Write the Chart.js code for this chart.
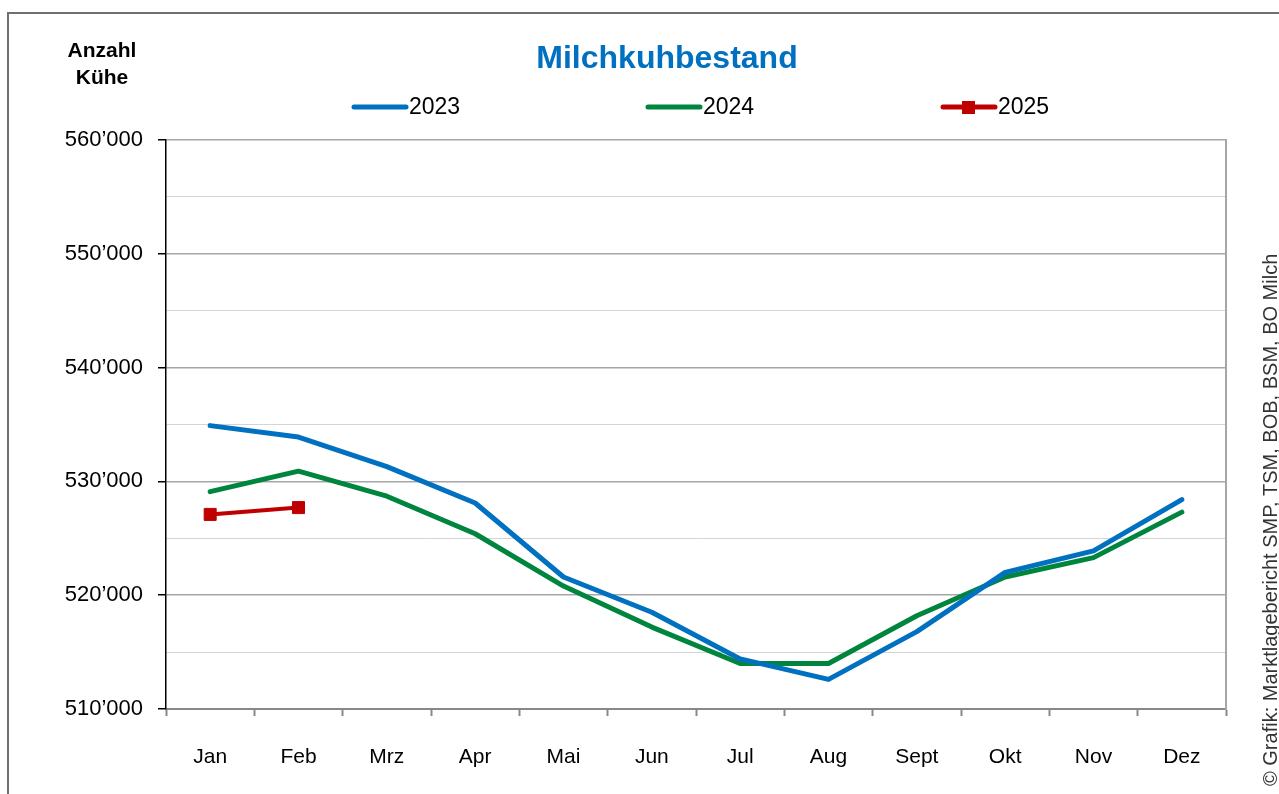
<!DOCTYPE html>
<html lang="de">
<head>
<meta charset="utf-8">
<title>Milchkuhbestand</title>
<script src="https://cdn.jsdelivr.net/npm/chart.js@4.4.1/dist/chart.umd.min.js"></script>
<style>
  html, body { margin: 0; padding: 0; background: #fff; overflow: hidden; }
  .wrap { position: relative; width: 1279px; height: 794px; }
  .frame { position: absolute; left: 7px; top: 12px; width: 1300px; height: 800px; border: 2px solid #6f6f6f; box-sizing: border-box; }
  canvas { position: absolute; left: 0; top: 0; }
</style>
</head>
<body>
<div class="wrap">
  <div class="frame"></div>
  <canvas id="chart-cows" width="1279" height="794"></canvas>
</div>
<script>
const months = ['Jan', 'Feb', 'Mrz', 'Apr', 'Mai', 'Jun', 'Jul', 'Aug', 'Sept', 'Okt', 'Nov', 'Dez']
const cows2023 = [534900, 533900, 531300, 528100, 521600, 518500, 514400, 512600, 516800, 522000, 523900, 528400]
const cows2024 = [529100, 530900, 528700, 525400, 520800, 517200, 514000, 514000, 518200, 521600, 523300, 527300]
const cows2025 = [527100, 527700]
const yearLabels = ['2023', '2024', '2025']

;(function () {
  'use strict'

  const FONT = "'Liberation Sans', Arial, sans-serif"

  function fmt(v) {
    return String(v).replace(/\B(?=(\d{3})+(?!\d))/g, '\u2019')
  }

  // title, legend, y title and source credit drawn on top of the chart
  const extras = {
    id: 'extras',
    afterDraw(chart) {
      const ctx = chart.ctx
      ctx.save()

      ctx.fillStyle = '#0070C0'
      ctx.font = 'bold 32px ' + FONT
      ctx.textAlign = 'center'
      ctx.textBaseline = 'middle'
      ctx.fillText('Milchkuhbestand', 667, 59)

      ctx.fillStyle = '#000'
      ctx.font = 'bold 21px ' + FONT
      ctx.fillText('Anzahl', 102, 51)
      ctx.fillText('K\u00fche', 102, 78)

      const legendX = [352, 646, 941]
      chart.data.datasets.forEach((ds, i) => {
        const x = legendX[i], y = 107
        ctx.strokeStyle = ds.borderColor
        ctx.lineWidth = 5
        ctx.lineCap = 'round'
        ctx.beginPath()
        ctx.moveTo(x + 2, y)
        ctx.lineTo(x + 54, y)
        ctx.stroke()
        if (ds.pointRadius > 0) {
          ctx.fillStyle = ds.borderColor
          ctx.fillRect(x + 21, y - 6, 13, 13)
        }
        ctx.fillStyle = '#000'
        ctx.font = '23px ' + FONT
        ctx.textAlign = 'left'
        ctx.textBaseline = 'middle'
        ctx.fillText(ds.label, x + 57, y + 1)
      })

      ctx.translate(1277, 786)
      ctx.rotate(-Math.PI / 2)
      ctx.fillStyle = '#333'
      ctx.font = '20px ' + FONT
      ctx.textAlign = 'left'
      ctx.textBaseline = 'alphabetic'
      ctx.fillText('\u00a9 Grafik: Marktlagebericht SMP, TSM, BOB, BSM, BO Milch', 0, 0)
      ctx.restore()
    }
  }

  const canvas = document.getElementById('chart-cows')
  new Chart(canvas, {
    type: 'line',
    data: {
      labels: months,
      datasets: [
        { label: yearLabels[0], data: cows2023, borderColor: '#0070C0', backgroundColor: '#0070C0', borderWidth: 5, pointRadius: 0 },
        { label: yearLabels[1], data: cows2024, borderColor: '#00853E', backgroundColor: '#00853E', borderWidth: 5, pointRadius: 0 },
        { label: yearLabels[2], data: cows2025, borderColor: '#C00000', backgroundColor: '#C00000', borderWidth: 4, pointRadius: 8.5, pointStyle: 'rect', pointBorderWidth: 1 },
      ],
    },
    options: {
      responsive: false,
      animation: false,
      layout: { padding: { left: 30, right: 53, top: 140, bottom: 0 } },
      elements: { line: { tension: 0, borderCapStyle: 'round', borderJoinStyle: 'round' } },
      plugins: {
        legend: { display: false },
        tooltip: { enabled: false },
      },
      scales: {
        x: {
          offset: true,
          grid: { offset: true, drawOnChartArea: false, tickLength: 7, tickColor: '#888', tickWidth: 2 },
          border: { color: '#888', width: 2 },
          ticks: { color: '#000', font: { family: FONT, size: 21 }, padding: 29, maxRotation: 0, autoSkip: false },
          afterFit(scale) { scale.height = 85 },
        },
        y: {
          min: 510000,
          max: 560000,
          ticks: {
            stepSize: 5000,
            color: '#000',
            padding: 15,
            font: { family: FONT, size: 22 },
            callback: v => (v % 10000 === 0 ? fmt(v) : ''),
          },
          grid: {
            color: c => (c.tick && c.tick.value % 10000 === 0 ? '#a6a6a6' : '#d4d4d4'),
            lineWidth: c => (c.tick && c.tick.value % 10000 === 0 ? 1.5 : 1),
            tickColor: c => (c.tick && c.tick.value % 10000 === 0 ? '#000' : 'rgba(0,0,0,0)'),
            tickLength: 8,
            tickWidth: 1.5,
          },
          border: { color: '#000', width: 1.5 },
          afterFit(scale) { scale.width = 136 },
        },
        y2: {
          position: 'right',
          min: 510000,
          max: 560000,
          ticks: { display: false },
          grid: { display: false },
          border: { color: '#a6a6a6', width: 2 },
          afterFit(scale) { scale.width = 0 },
        },
      },
    },
    plugins: [extras],
  })
})()
</script>
</body>
</html>
